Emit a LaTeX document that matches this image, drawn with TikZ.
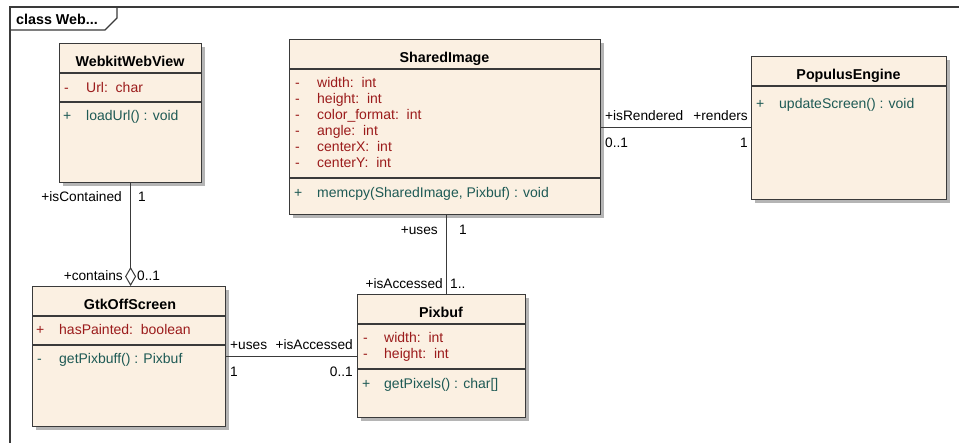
\documentclass[tikz,border=0pt]{standalone}
\usepackage{fontspec}
\setmainfont{Liberation Sans}
\usetikzlibrary{shapes.geometric,arrows.meta,shadows}

\definecolor{classfill}{HTML}{FBF0E2}
\definecolor{attrcol}{HTML}{9B1B1B}
\definecolor{opcol}{HTML}{1E5A55}
\definecolor{edgecol}{HTML}{3A3A3A}
\definecolor{shadowcol}{HTML}{B5B5B5}

\tikzset{
  classbox/.style={draw=edgecol, line width=1.2pt, fill=classfill, inner sep=0pt,
    anchor=north west,
    drop shadow={shadow xshift=3pt, shadow yshift=-3pt, fill=shadowcol, opacity=1}},
  sepline/.style={draw=edgecol, line width=1.1pt},
  textrow/.style={inner sep=0pt, yshift=-3pt},
  classname/.style={textrow, anchor=mid, font=\fontsize{14.3}{16}\bfseries\selectfont},
  attr/.style={textrow, anchor=mid west, text=attrcol, font=\fontsize{14}{16}\selectfont},
  oper/.style={textrow, anchor=mid west, text=opcol, font=\fontsize{14}{16}\selectfont},
  rolelabel/.style={textrow, font=\fontsize{13.7}{16}\selectfont},
  assoc/.style={draw=edgecol, line width=1pt},
}

\begin{document}
\begin{tikzpicture}[x=1pt, y=-1pt]
  \fill[white] (0,0) rectangle (959,443);
  \useasboundingbox (0,0) rectangle (959,443);

  % diagram frame and its title tab
  \draw[edgecol, line width=1.2pt] (10,443) -- (10,7) -- (959,7);
  \draw[edgecol, line width=1.2pt] (10,30) -- (105,30) -- (117,18) -- (117,7);
  \node[classname, anchor=mid west] (frametitle) at (16,19) {class Web...};

  % ---------------- WebkitWebView ----------------
  \node[classbox, minimum width=142pt, minimum height=139pt] (webview) at (59,43) {};
  \draw[sepline] (webview.west |- 0,73) -- (webview.east |- 0,73);
  \draw[sepline] (webview.west |- 0,102) -- (webview.east |- 0,102);
  \node[classname] (webview-name) at (130,61) {WebkitWebView};
  \node[attr] (webview-a1v) at (64,87) {-};
  \node[attr] (webview-a1) at (86,87) {Url:\ \ char};
  \node[oper] (webview-o1v) at (63,115) {+};
  \node[oper] (webview-o1) at (86,115) {loadUrl() : void};

  % ---------------- SharedImage ----------------
  \node[classbox, minimum width=311pt, minimum height=175pt] (shared) at (289,39) {};
  \draw[sepline] (shared.west |- 0,69) -- (shared.east |- 0,69);
  \draw[sepline] (shared.west |- 0,178) -- (shared.east |- 0,178);
  \node[classname] (shared-name) at (444.5,57) {SharedImage};
  \node[attr] (shared-a1v) at (295,82) {-};
  \node[attr] (shared-a1) at (317,82) {width:\ \ int};
  \node[attr] (shared-a2v) at (295,98) {-};
  \node[attr] (shared-a2) at (317,98) {height:\ \ int};
  \node[attr] (shared-a3v) at (295,114) {-};
  \node[attr] (shared-a3) at (317,114) {color\_format:\ \ int};
  \node[attr] (shared-a4v) at (295,130) {-};
  \node[attr] (shared-a4) at (317,130) {angle:\ \ int};
  \node[attr] (shared-a5v) at (295,146) {-};
  \node[attr] (shared-a5) at (317,146) {centerX:\ \ int};
  \node[attr] (shared-a6v) at (295,162) {-};
  \node[attr] (shared-a6) at (317,162) {centerY:\ \ int};
  \node[oper] (shared-o1v) at (294,192) {+};
  \node[oper] (shared-o1) at (317,192) {memcpy(SharedImage, Pixbuf) : void};

  % ---------------- PopulusEngine ----------------
  \node[classbox, minimum width=195pt, minimum height=143pt] (populus) at (751,56) {};
  \draw[sepline] (populus.west |- 0,86) -- (populus.east |- 0,86);
  \node[classname] (populus-name) at (848.5,74) {PopulusEngine};
  \node[oper] (populus-o1v) at (756,103) {+};
  \node[oper] (populus-o1) at (779,103) {updateScreen() : void};

  % ---------------- GtkOffScreen ----------------
  \node[classbox, minimum width=193pt, minimum height=140pt] (gtk) at (32,286) {};
  \draw[sepline] (gtk.west |- 0,316) -- (gtk.east |- 0,316);
  \draw[sepline] (gtk.west |- 0,345) -- (gtk.east |- 0,345);
  \node[classname] (gtk-name) at (130,304) {GtkOffScreen};
  \node[attr] (gtk-a1v) at (36,329) {+};
  \node[attr] (gtk-a1) at (59,329) {hasPainted:\ \ boolean};
  \node[oper] (gtk-o1v) at (37,358) {-};
  \node[oper] (gtk-o1) at (59,358) {getPixbuff() : Pixbuf};

  % ---------------- Pixbuf ----------------
  \node[classbox, minimum width=168pt, minimum height=123pt] (pixbuf) at (357,294) {};
  \draw[sepline] (pixbuf.west |- 0,324) -- (pixbuf.east |- 0,324);
  \draw[sepline] (pixbuf.west |- 0,369) -- (pixbuf.east |- 0,369);
  \node[classname] (pixbuf-name) at (441,312) {Pixbuf};
  \node[attr] (pixbuf-a1v) at (363,337) {-};
  \node[attr] (pixbuf-a1) at (384,337) {width:\ \ int};
  \node[attr] (pixbuf-a2v) at (363,353) {-};
  \node[attr] (pixbuf-a2) at (384,353) {height:\ \ int};
  \node[oper] (pixbuf-o1v) at (362,383) {+};
  \node[oper] (pixbuf-o1) at (384,383) {getPixels() : char[]};

  % ---------------- associations ----------------
  % aggregation: GtkOffScreen contains WebkitWebView
  \draw[assoc, -{Diamond[open, fill=white, length=19pt, width=11pt, line width=1pt]}]
    (webview.south) -- (webview.south |- gtk.north);
  \node[rolelabel, anchor=mid east] (lbl-iscontained) at (122,196) {+isContained};
  \node[rolelabel, anchor=mid west] (lbl-wv-mult) at (138,196) {1};
  \node[rolelabel, anchor=mid east] (lbl-contains) at (123,275) {+contains};
  \node[rolelabel, anchor=mid west] (lbl-gtk-mult) at (137,275) {0..1};

  % GtkOffScreen uses Pixbuf
  \draw[assoc] (gtk.east) -- (gtk.east -| pixbuf.west);
  \node[rolelabel, anchor=mid west] (lbl-gtk-uses) at (230,344) {+uses};
  \node[rolelabel, anchor=mid east] (lbl-pb-acc1) at (353,344) {+isAccessed};
  \node[rolelabel, anchor=mid west] (lbl-gtk-one) at (230,371) {1};
  \node[rolelabel, anchor=mid east] (lbl-pb-m1) at (353,371) {0..1};

  % SharedImage uses Pixbuf
  \draw[assoc] ([xshift=1.5pt]shared.south) -- ([xshift=1.5pt]shared.south |- pixbuf.north);
  \node[rolelabel, anchor=mid east] (lbl-sh-uses) at (438,229) {+uses};
  \node[rolelabel, anchor=mid west] (lbl-sh-one) at (459,229) {1};
  \node[rolelabel, anchor=mid east] (lbl-pb-acc2) at (443,283) {+isAccessed};
  \node[rolelabel, anchor=mid west] (lbl-pb-m2) at (450,283) {1..};

  % PopulusEngine renders SharedImage
  \draw[assoc] (shared.east) -- (shared.east -| populus.west);
  \node[rolelabel, anchor=mid west] (lbl-isrendered) at (605,115) {+isRendered};
  \node[rolelabel, anchor=mid east] (lbl-renders) at (748,115) {+renders};
  \node[rolelabel, anchor=mid west] (lbl-sh-m) at (605,142) {0..1};
  \node[rolelabel, anchor=mid east] (lbl-pe-one) at (748,142) {1};
\end{tikzpicture}
\end{document}
